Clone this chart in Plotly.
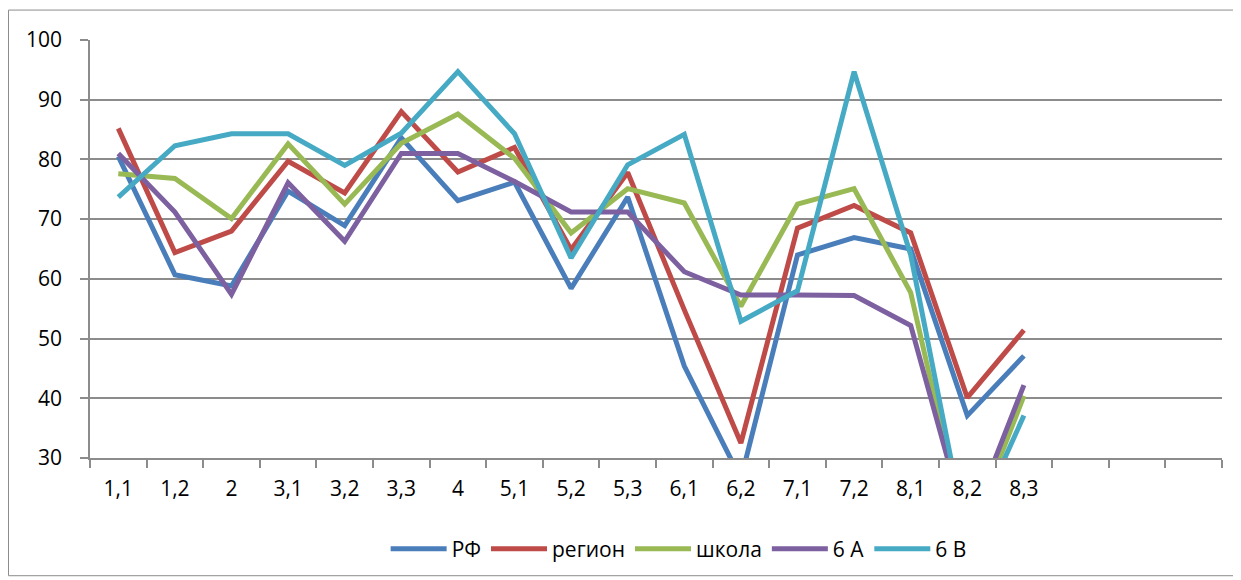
import plotly.graph_objects as go

categories = ["1,1", "1,2", "2", "3,1", "3,2", "3,3", "4", "5,1", "5,2", "5,3",
              "6,1", "6,2", "7,1", "7,2", "8,1", "8,2", "8,3"]
empty_slots = [" ", "  ", "   "]

rf = [80.5, 60.7, 58.8, 74.7, 68.9, 83.6, 73.1, 76.2, 58.4, 73.7,
      45.4, 26.5, 64.0, 66.9, 65.0, 37.1, 47.1]
region = [85.2, 64.4, 68.0, 79.7, 74.4, 88.0, 77.9, 82.0, 64.9, 77.8,
          54.8, 32.5, 68.5, 72.3, 67.7, 40.1, 51.4]
school = [77.6, 76.8, 70.1, 82.6, 72.5, 82.7, 87.6, 80.2, 67.7, 75.1,
          72.7, 55.4, 72.5, 75.1, 57.7, 16.0, 40.4]
class_6a = [81.0, 71.2, 57.4, 76.1, 66.3, 81.0, 81.0, 76.3, 71.2, 71.2,
            61.2, 57.3, 57.3, 57.2, 52.2, 18.0, 42.2]
class_6b = [73.7, 82.3, 84.3, 84.3, 79.0, 84.4, 94.7, 84.3, 63.5, 79.1,
            84.2, 52.9, 58.0, 94.7, 64.0, 16.0, 37.1]

series_names = ["РФ", "регион", "школа", "6 А", "6 В"]
series_values = [rf, region, school, class_6a, class_6b]
series_colors = ["#4A7EBB", "#BE4B48", "#98B954", "#7D60A0", "#46AAC5"]

y_ticks = [30, 40, 50, 60, 70, 80, 90, 100]

FONT = "Open Sans"
GRID = "#8c8c8c"

fig = go.Figure()
for name, vals, col in zip(series_names, series_values, series_colors):
    fig.add_trace(go.Scatter(
        x=categories, y=vals, name=name, mode="lines",
        line=dict(color=col, width=5),
    ))

fig.update_layout(
    width=1233, height=572,
    margin=dict(l=82, r=19, t=32, b=121),
    paper_bgcolor="white", plot_bgcolor="white",
    font=dict(family=FONT, size=21, color="#000000"),
    showlegend=True,
    legend=dict(orientation="h", x=0.52, xanchor="center", y=-0.215, yanchor="middle",
                font=dict(family=FONT, size=21, color="#000000"),
                itemwidth=56, traceorder="normal", bgcolor="rgba(0,0,0,0)"),
    xaxis=dict(type="category", categoryorder="array",
               categoryarray=categories + empty_slots,
               range=[-0.5, len(categories) + len(empty_slots) - 0.5],
               tickson="boundaries", ticks="outside", ticklen=8, tickcolor=GRID, tickwidth=1.5,
               showline=True, linecolor=GRID, linewidth=1.5, showgrid=False,
               tickfont=dict(family=FONT, size=21), ticklabelstandoff=11, fixedrange=True),
    yaxis=dict(range=[30, 100], tickvals=y_ticks, ticktext=[str(v) for v in y_ticks],
               ticks="outside", ticklen=8, tickcolor=GRID, tickwidth=1.5,
               showline=True, linecolor=GRID, linewidth=1.5,
               showgrid=True, gridcolor=GRID, gridwidth=1.5, zeroline=False,
               tickfont=dict(family=FONT, size=21), ticklabelstandoff=14, fixedrange=True),
)

fig.add_shape(type="rect", xref="paper", yref="paper",
              x0=-0.072, x1=1.0106, y0=-0.2816, y1=1.0716,
              line=dict(color="#8c8c8c", width=1), layer="below")

fig.write_html("out.html")
